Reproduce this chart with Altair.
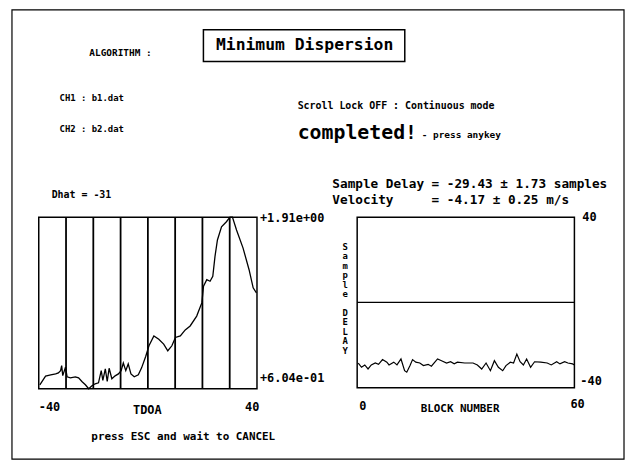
import altair as alt
import pandas as pd

# ---------------- data ----------------
tdoa = [-39.6, -37.5, -35.6, -33.8, -32.8, -32.0, -31.6, -31.2, -30.2, -29.6,
        -28.4, -26.6, -25.4, -24.1, -22.9, -21.7, -20.5, -19.3, -18.1, -17.1,
        -16.5, -15.6, -14.9, -14.2, -13.2, -12.0, -10.8, -9.8, -9.0, -8.1,
        -7.2, -6.2, -5.0, -3.5, -2.3, -0.8, 0.4, 2.2, 4.0, 5.8,
        7.3, 8.8, 10.1, 11.9, 13.7, 15.5, 17.9, 19.8, 20.4, 21.6,
        22.8, 23.8, 24.6, 25.5, 27.0, 28.8, 30.1, 31.0, 32.5, 34.9,
        37.1, 38.6, 39.8]
dispersion = [0.634, 0.700, 0.710, 0.717, 0.725, 0.742, 0.780, 0.704, 0.768, 0.695,
              0.687, 0.695, 0.687, 0.657, 0.634, 0.604, 0.627, 0.642, 0.649, 0.742,
              0.667, 0.755, 0.659, 0.760, 0.680, 0.702, 0.717, 0.742, 0.800, 0.742,
              0.793, 0.717, 0.695, 0.710, 0.763, 0.849, 0.931, 1.006, 0.981, 0.944,
              0.893, 0.931, 0.994, 1.006, 1.052, 1.082, 1.157, 1.259, 1.384, 1.434,
              1.422, 1.459, 1.610, 1.736, 1.837, 1.875, 1.910, 1.910, 1.812, 1.674,
              1.510, 1.372, 1.334]
tdoa_grid = [-30, -20, -10, 0, 10, 20, 30]
tdoa_domain = [-40, 40]
disp_domain = [0.604, 1.91]

block = [0.3, 1.2, 2.1, 3.0, 3.9, 5.0, 5.9, 7.0, 8.2, 8.8,
         10.1, 11.0, 12.1, 13.1, 13.7, 14.6, 15.3, 16.2, 17.3, 18.3,
         19.6, 20.5, 22.2, 23.3, 24.7, 25.8, 26.8, 27.7, 29.7, 32.0,
         33.2, 34.4, 35.6, 36.8, 37.9, 39.0, 40.2, 41.1, 42.3, 43.2,
         44.1, 45.0, 45.9, 46.8, 47.9, 49.0, 50.7, 52.5, 53.6, 55.1,
         56.0, 57.3, 58.2, 59.5, 60.0]
delay = [-28.4, -30.4, -29.3, -31.2, -29.3, -28.4, -29.0, -26.8, -28.0, -29.3,
         -28.0, -29.3, -26.5, -32.0, -32.7, -29.6, -26.8, -28.0, -28.4, -29.6,
         -29.0, -29.9, -26.5, -27.3, -28.4, -27.8, -28.8, -28.0, -28.4, -28.4,
         -29.3, -31.2, -28.4, -32.0, -27.3, -30.4, -32.0, -29.6, -28.0, -28.4,
         -24.2, -27.8, -29.3, -26.5, -30.4, -27.8, -28.0, -28.4, -29.3, -27.8,
         -28.8, -27.8, -28.4, -28.8, -29.3]
block_domain = [0, 60]
delay_domain = [-40, 40]
delay_ref = [0]

left_tick_labels = ["-40", "40"]
left_value_labels = ["+1.91e+00", "+6.04e-01"]
right_tick_labels = ["0", "60"]
right_value_labels = ["40", "-40"]
vertical_label = ["S", "a", "m", "p", "l", "e", "", "D", "E", "L", "A", "Y"]

FONT = "DejaVu Sans Mono"
OFF = 8  # page margin

# pixel ranges of the two plot frames (chart coordinates)
LX = [39 - OFF, 259 - OFF]
LY = [390 - OFF, 217 - OFF]
RX = [360 - OFF, 579 - OFF]
RY = [389 - OFF, 217 - OFF]

one = alt.Data(values=[{}])


def sx(dom, rng):
    return alt.Scale(domain=dom, range=rng, zero=False, nice=False)


def text(t, x, y, size=12, align="left", baseline="middle", **kw):
    return alt.Chart(one).mark_text(
        text=t, font=FONT, fontWeight="bold", fontSize=size, align=align,
        baseline=baseline, color="black", **kw
    ).encode(x=alt.value(x - OFF), y=alt.value(y - OFF))


# ---------------- left plot ----------------
df_left = pd.DataFrame({"tdoa": tdoa, "disp": dispersion})
df_grid = pd.DataFrame({"g": tdoa_grid, "lo": disp_domain[0], "hi": disp_domain[1]})
df_lframe = pd.DataFrame({"x1": [tdoa_domain[0]], "x2": [tdoa_domain[1]],
                          "y1": [disp_domain[0]], "y2": [disp_domain[1]]})

lxs = sx(tdoa_domain, LX)
lys = sx(disp_domain, LY)

left_frame = alt.Chart(df_lframe).mark_rect(
    fillOpacity=0, stroke="black", strokeWidth=1.5
).encode(
    x=alt.X("x1:Q", scale=lxs, axis=None), x2="x2:Q",
    y=alt.Y("y1:Q", scale=lys, axis=None), y2="y2:Q",
)
left_grid = alt.Chart(df_grid).mark_rule(color="black", strokeWidth=1.8).encode(
    x=alt.X("g:Q", scale=lxs, axis=None),
    y=alt.Y("lo:Q", scale=lys, axis=None), y2="hi:Q",
)
left_line = alt.Chart(df_left).mark_line(color="black", strokeWidth=1.3).encode(
    x=alt.X("tdoa:Q", scale=lxs, axis=None),
    y=alt.Y("disp:Q", scale=lys, axis=None),
)

# ---------------- right plot ----------------
df_right = pd.DataFrame({"block": block, "delay": delay})
df_rframe = pd.DataFrame({"x1": [block_domain[0]], "x2": [block_domain[1]],
                          "y1": [delay_domain[0]], "y2": [delay_domain[1]]})
df_zero = pd.DataFrame({"y": delay_ref, "x1": block_domain[0], "x2": block_domain[1]})

rxs = sx(block_domain, RX)
rys = sx(delay_domain, RY)

right_frame = alt.Chart(df_rframe).mark_rect(
    fillOpacity=0, stroke="black", strokeWidth=1.5
).encode(
    x=alt.X("x1:Q", scale=rxs, axis=None), x2="x2:Q",
    y=alt.Y("y1:Q", scale=rys, axis=None), y2="y2:Q",
)
right_zero = alt.Chart(df_zero).mark_rule(color="black", strokeWidth=1.3).encode(
    x=alt.X("x1:Q", scale=rxs, axis=None), x2="x2:Q",
    y=alt.Y("y:Q", scale=rys, axis=None),
)
right_line = alt.Chart(df_right).mark_line(color="black", strokeWidth=1.2).encode(
    x=alt.X("block:Q", scale=rxs, axis=None),
    y=alt.Y("delay:Q", scale=rys, axis=None),
)

# ---------------- decorations & text ----------------
outer = alt.Chart(one).mark_rect(fillOpacity=0, stroke="black", strokeWidth=1.2).encode(
    x=alt.value(12 - OFF), x2=alt.value(629 - OFF),
    y=alt.value(8 - OFF), y2=alt.value(461 - OFF),
)
title_box = alt.Chart(one).mark_rect(fillOpacity=0, stroke="black", strokeWidth=1.5).encode(
    x=alt.value(205 - OFF), x2=alt.value(408 - OFF),
    y=alt.value(28 - OFF), y2=alt.value(60 - OFF),
)

texts = [
    text("ALGORITHM :", 90, 52, size=9.5),
    text("Minimum Dispersion", 307, 44, size=16.5, align="center"),
    text("CH1 : b1.dat", 60, 97, size=9),
    text("CH2 : b2.dat", 60, 128, size=9),
    text("Scroll Lock OFF : Continuous mode", 300, 105, size=10),
    text("completed!", 300, 138, size=20, baseline="alphabetic"),
    text("- press anykey", 425, 137, size=9.5, baseline="alphabetic"),
    text("Dhat = -31", 52, 195, size=10),
    text("Sample Delay", 335, 184, size=12.8),
    text("= -29.43 ± 1.73 samples", 435, 184, size=12.8),
    text("Velocity", 335, 200, size=12.8),
    text("= -4.17 ± 0.25 m/s", 435, 200, size=12.8),
    text(left_value_labels[0], 262, 218),
    text(left_value_labels[1], 262, 379),
    text(left_tick_labels[0], 39, 408),
    text("TDOA", 134, 411),
    text(left_tick_labels[1], 247, 408),
    text("press ESC and wait to CANCEL", 92, 439, size=11),
    text(right_value_labels[0], 587, 217),
    text(right_value_labels[1], 585, 382),
    text(right_tick_labels[0], 362, 407),
    text("BLOCK NUMBER", 424, 410, size=11),
    text(right_tick_labels[1], 575, 405),
]
for k, ch in enumerate(vertical_label):
    if ch:
        texts.append(text(ch, 348, 247 + 9.5 * k, size=9, align="center"))

chart = alt.layer(
    outer, title_box,
    left_grid, left_line, left_frame,
    right_zero, right_line, right_frame,
    *texts,
).resolve_scale(x="independent", y="independent").properties(
    width=622, height=454, padding=0, autosize=alt.AutoSizeParams(type="none"),
    background="white",
).configure_view(stroke=None)

chart.save("out.html", embed_options={"renderer": "svg", "actions": False})
